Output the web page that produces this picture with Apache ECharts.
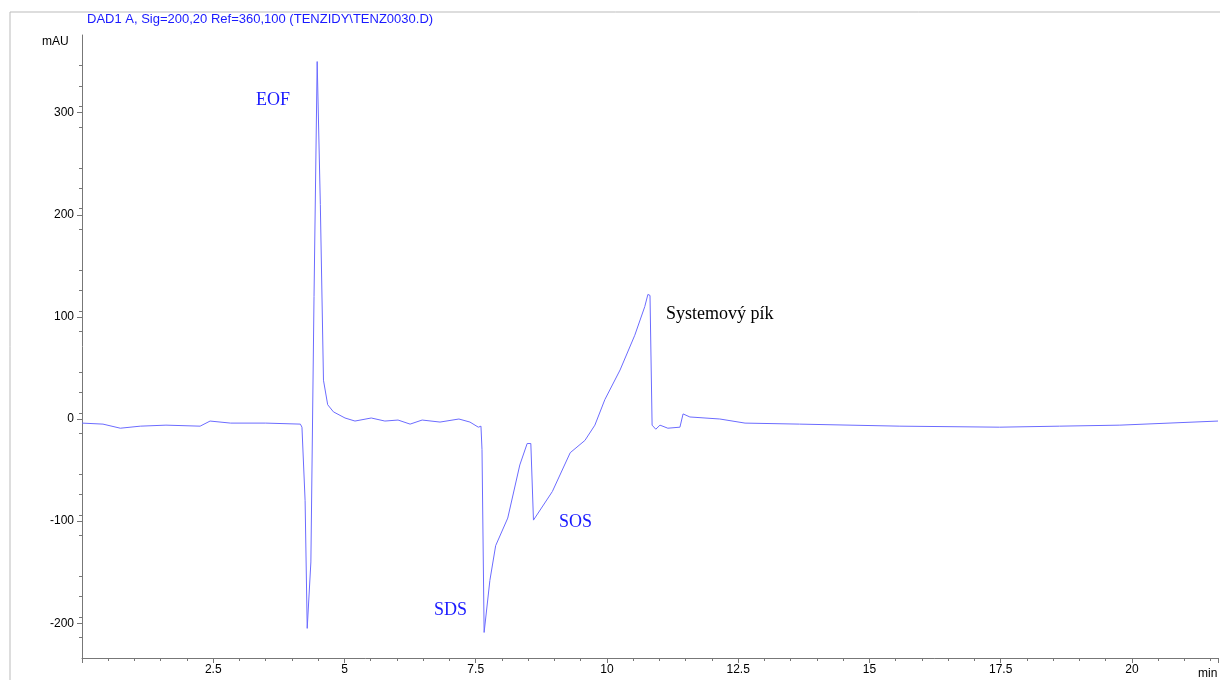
<!DOCTYPE html>
<html>
<head>
<meta charset="utf-8">
<script src="https://cdn.jsdelivr.net/npm/echarts@6/dist/echarts.min.js"></script>
<style>html,body{margin:0;background:#fff}#c{width:1220px;height:680px}</style>
</head>
<body>
<div id="c"></div>
<script>
// retention time (min) and absorbance (mAU)
var times = [0,0.4,0.73,1.11,1.6,2.25,2.44,2.83,3.5,4.16,4.19,4.25,4.29,4.36,4.42,4.48,4.54,4.60,4.68,4.79,5.01,5.2,5.51,5.77,6.02,6.25,6.48,6.82,7.18,7.39,7.55,7.60,7.62,7.66,7.77,7.88,8.11,8.34,8.48,8.55,8.60,8.96,9.3,9.58,9.77,9.96,10.25,10.53,10.72,10.78,10.82,10.86,10.93,11.01,11.16,11.39,11.45,11.58,12.15,12.63,13.67,15.58,17.48,18.62,19.77,21.64];
var mau = [-4,-5,-9,-7,-6,-7,-2,-4,-4,-5,-8,-80,-205,-140,120,350,210,38,14,7,1,-2,1,-2,-1,-5,-1,-3,0,-3,-8,-7,-30,-209,-158,-124,-97,-45,-24,-24,-99,-71,-33,-21,-6,19,48,82,110,122,121,-6,-10,-6,-9,-8,5,2,0,-4,-5,-7,-8,-7,-6,-2];
var yTicks = [-200,-100,0,100,200,300];

var points = times.map(function (t, i) { return [t, mau[i]]; });
var chart = echarts.init(document.getElementById('c'));
var serif = 'Liberation Serif';
chart.setOption({
  animation: false,
  grid: { left: 82, right: 2, top: 35, bottom: 22 },
  xAxis: {
    type: 'value', min: 0, max: 21.64, interval: 2.5,
    axisLine: { onZero: false, lineStyle: { color: '#777' } },
    axisTick: { length: 5, lineStyle: { color: '#777' } },
    minorTick: { show: true, splitNumber: 5, length: 3, lineStyle: { color: '#777' } },
    splitLine: { show: false },
    axisLabel: { color: '#000', fontSize: 12, fontFamily: 'Liberation Sans', margin: 6, showMaxLabel: false,
      formatter: function (v) { return v === 0 ? '' : String(v); } }
  },
  yAxis: {
    type: 'value', min: -234, max: 376, interval: 100,
    axisLine: { show: true, onZero: false, lineStyle: { color: '#777' } },
    axisTick: { show: true, length: 5, lineStyle: { color: '#777' },
      customValues: yTicks },
    minorTick: { show: true, splitNumber: 5, length: 3, lineStyle: { color: '#777' } },
    splitLine: { show: false },
    axisLabel: { color: '#000', fontSize: 12, fontFamily: 'Liberation Sans', margin: 8,
      customValues: yTicks }
  },
  graphic: [
    { type: 'rect', shape: { x: 10, y: 12, width: 1230, height: 700 }, style: { fill: 'none', stroke: '#bbb', lineWidth: 1 } },
    { type: 'text', x: 87, y: 13, style: { text: 'DAD1 A, Sig=200,20 Ref=360,100 (TENZIDY\\TENZ0030.D)', fill: '#1a1aff', font: '13px Liberation Sans' } },
    { type: 'text', x: 42, y: 36, style: { text: 'mAU', fill: '#000', font: '12px Liberation Sans' } },
    { type: 'text', x: 1198, y: 668, style: { text: 'min', fill: '#000', font: '12px Liberation Sans' } },
    { type: 'text', x: 256, y: 91, style: { text: 'EOF', fill: '#1a1aff', font: '18px ' + serif } },
    { type: 'text', x: 434, y: 601, style: { text: 'SDS', fill: '#1a1aff', font: '18px ' + serif } },
    { type: 'text', x: 559, y: 513, style: { text: 'SOS', fill: '#1a1aff', font: '18px ' + serif } },
    { type: 'text', x: 666, y: 305, style: { text: 'Systemový pík', fill: '#000', font: '18px ' + serif } }
  ],
  series: [{
    type: 'line', data: points, showSymbol: false,
    lineStyle: { color: '#6b6bff', width: 1 }
  }]
});
</script>
</body>
</html>
